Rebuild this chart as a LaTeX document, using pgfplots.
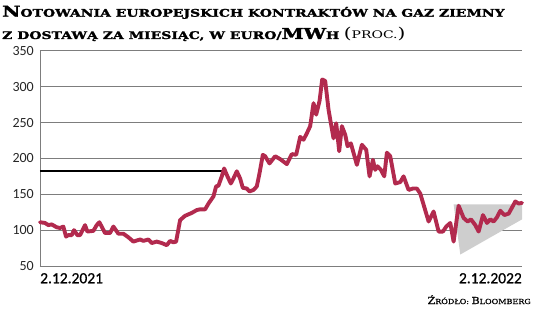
\documentclass[border=0pt]{standalone}
\usepackage{fontspec}
\usepackage{graphicx}
\usepackage{pgfplots}
\pgfplotsset{compat=1.18}
\setmainfont{Carlito}
\newfontfamily\xl{Carlito}[FakeBold=0.7]
\newfontfamily\tf{DejaVu Serif}[BoldFont={DejaVu Serif Bold}, BoldFeatures={FakeBold=1.6}]
\newfontfamily\tfm{DejaVu Serif}[FakeBold=0.6]
\newfontfamily\tfr{DejaVu Serif}
\definecolor{gasred}{RGB}{178,42,78}
\definecolor{gridc}{RGB}{125,125,125}
\definecolor{tri}{RGB}{206,206,206}
\newcommand\B[1]{{\fontsize{15bp}{16bp}\selectfont #1}}
\newcommand\s[1]{{\fontsize{10.5bp}{12bp}\selectfont #1}}
\newcommand\SB[1]{{\fontsize{9.6bp}{11bp}\selectfont #1}}
\newcommand\Ss[1]{{\fontsize{7bp}{8bp}\selectfont #1}}
\begin{document}
\begin{tikzpicture}
\path[use as bounding box] (-40bp,-51bp) rectangle (496bp,266bp);
\begin{axis}[
  at={(0,0)}, anchor=south west,
  scale only axis, width=482bp, height=215.2bp,
  xmin=0, xmax=1445, ymin=50, ymax=350,
  clip=false,
  axis lines=left,
  axis line style={-, draw=gridc, line width=0.8pt},
  ytick={50,100,...,350},
  ymajorgrids, grid style={gridc, line width=0.8pt},
  major tick length=0pt,
  /pgf/number format/assume math mode=true,
  yticklabel style={font=\fontsize{14bp}{14bp}\selectfont, inner sep=0pt, xshift=-6bp, text=black!85},
  xtick={0}, xticklabels={2.12.2021},
  xticklabel style={anchor=north west, font=\xl\fontsize{15.5bp}{15bp}\selectfont, inner sep=0pt, yshift=-7bp, text=black},
  extra x ticks={1445}, extra x tick labels={2.12.2022},
  extra x tick style={xticklabel style={anchor=north east}},
]
\addplot[fill=tri, draw=none] coordinates {(1240,136) (1445,136) (1445,115) (1260,66)} -- cycle;
\addplot[black, line width=1.8pt] coordinates {(0,182) (545,182)};
\addplot[gasred, line width=3.9pt, line join=round, line cap=round] coordinates {
(0,111) (15,110) (25,107) (35,108) (50,104) (60,103) (70,105) (78,91) (85,93) (95,93) (102,100) (112,93) (120,93) (135,107) (142,98) (160,99) (170,107) (178,111) (195,96) (210,96) (220,105) (235,95) (250,95) (265,90) (280,84) (300,87) (310,85) (325,87) (335,82) (350,84) (365,82) (380,79) (390,85) (400,83) (408,84) (420,114) (435,120) (455,124) (470,128) (480,129) (495,129) (505,137) (520,147) (528,161) (535,162) (545,175) (552,186) (560,177) (572,165) (580,172) (590,182) (600,172) (608,159) (620,158) (628,154) (640,156) (650,161) (658,179)
(668,205) (675,203) (688,193) (705,203) (720,199) (740,192) (755,206) (768,205) (780,230) (790,226) (800,235) (810,245) (820,277) (828,261) (838,280) (846,310) (855,308) (865,268) (872,249) (880,228) (888,249) (897,210) (905,245) (915,233) (922,217) (932,221) (950,191) (965,219) (978,212) (988,175) (998,198) (1005,184) (1012,189) (1022,184) (1032,175) (1040,208) (1050,203) (1065,165) (1080,167) (1090,175) (1105,156) (1118,158) (1130,158) (1140,151) (1165,112) (1180,126) (1195,98) (1208,98) (1218,105) (1230,110) (1240,84) (1255,134) (1270,117) (1282,112) (1292,115) (1305,107) (1315,98) (1328,121) (1340,110) (1350,115) (1360,112) (1370,118) (1380,127) (1392,121) (1405,123) (1425,140) (1435,137) (1445,138)};
\end{axis}
\node[anchor=base west, inner sep=0pt] at (-38bp,249.3bp) {\scalebox{1.33}[1]{\tf\bfseries \B{N}\s{OTOWANIA EUROPEJSKICH KONTRAKTÓW NA GAZ ZIEMNY}}};
\node[anchor=base west, inner sep=0pt] at (-38bp,227bp) {\scalebox{1.33}[1]{\tf\bfseries \s{Z DOSTAWĄ ZA MIESIĄC, W EURO/}\B{MW}\s{H} {\tfr\mdseries\B{(}\s{PROC.}\B{)}}}};
\node[anchor=base east, inner sep=0pt] at (491bp,-38bp) {\scalebox{1.15}[1]{\tfm \SB{Ź}\Ss{RÓDŁO: }\SB{B}\Ss{LOOMBERG}}};
\end{tikzpicture}
\end{document}
